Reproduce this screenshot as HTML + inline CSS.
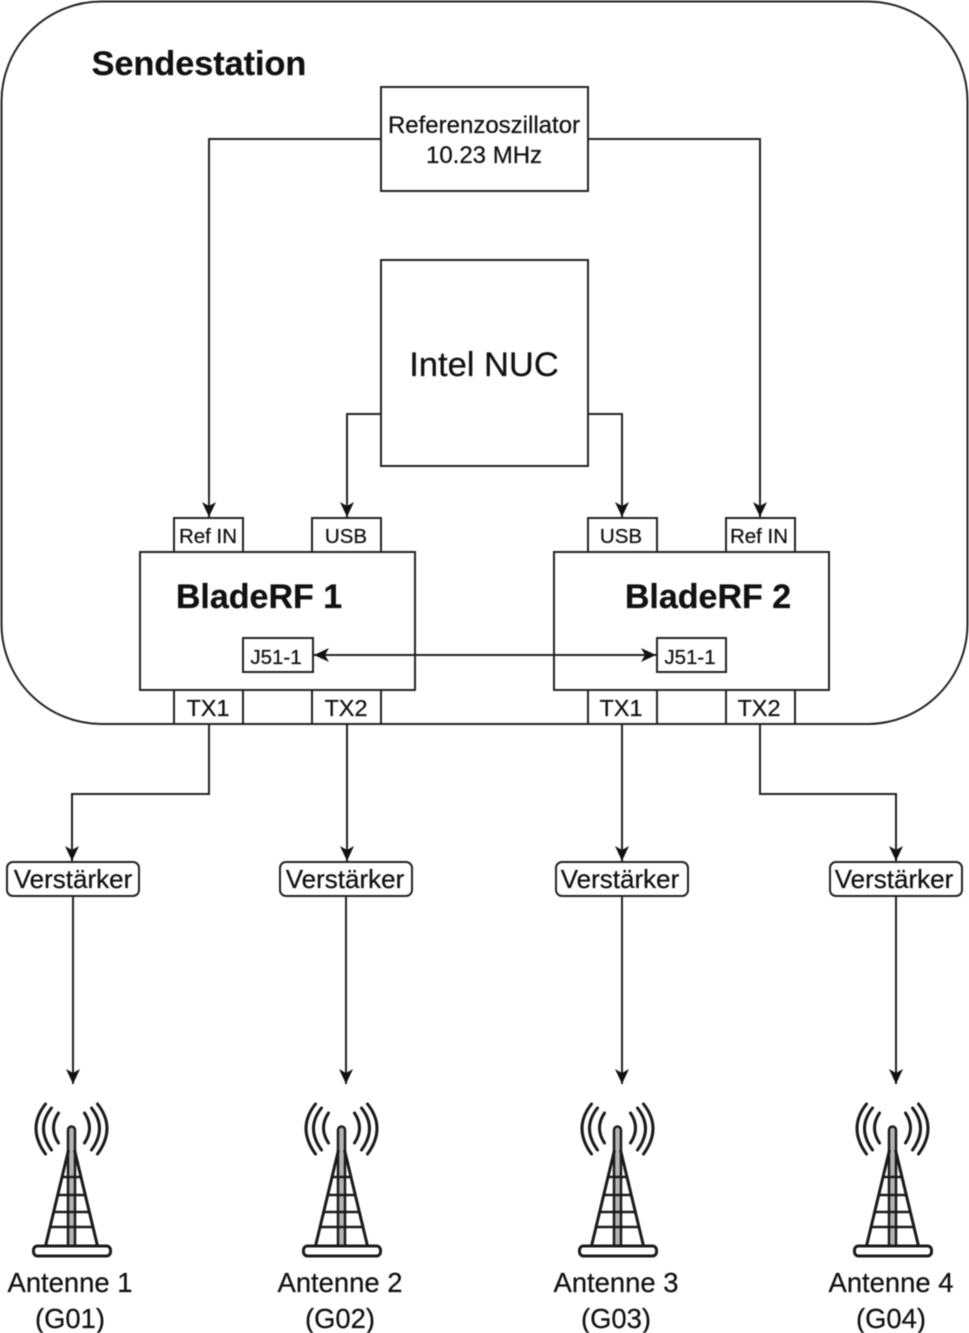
<!DOCTYPE html>
<html>
<head>
<meta charset="utf-8">
<style>
html,body{margin:0;padding:0;background:#fff;width:969px;height:1333px;overflow:hidden}
svg{display:block;filter:blur(0.55px)}
text{font-family:"Liberation Sans",sans-serif;fill:#111;text-anchor:middle;stroke:#111;stroke-width:0.25px}
.b{font-weight:bold}
</style>
</head>
<body>
<svg width="969" height="1333" viewBox="0 0 969 1333" xmlns="http://www.w3.org/2000/svg">
<defs>
<marker id="a" markerUnits="userSpaceOnUse" markerWidth="18" markerHeight="18" refX="16" refY="8" orient="auto-start-reverse" viewBox="0 0 18 16">
<path d="M1 1 L16 8 L1 15 L5 8 Z" fill="#111"/>
</marker>
<g id="tower" fill="none" stroke="#1a1a1a">
<path d="M-3.500 1250V1130a3.500 3.500 0 0 1 7 0V1250" stroke-width="2.500" fill="#b5b5b5"/>
<rect x="-38" y="1246" width="77" height="10" rx="4" stroke-width="3" fill="#fff"/>
<path d="M-3 1150L-26 1246M3 1150L26 1246" stroke-width="3"/>
<path d="M-10 1177H10M-13 1195H13M-17 1212H17M-21 1227H21" stroke-width="2.500"/>
<g stroke-width="3" stroke-linecap="round">
<path d="M-13 1113Q-23 1128 -13 1143"/>
<path d="M-20 1108Q-36 1128 -20 1150"/>
<path d="M-26 1104Q-45 1128 -26 1154"/>
<path d="M13 1113Q23 1128 13 1143"/>
<path d="M20 1108Q36 1128 20 1150"/>
<path d="M26 1104Q45 1128 26 1154"/>
</g>
</g>
</defs>

<rect x="1.500" y="1.500" width="966" height="722.500" rx="100" ry="100" fill="#fff" stroke="#222" stroke-width="2"/>
<text x="199" y="75" font-size="34.200" class="b">Sendestation</text>

<g fill="#fff" stroke="#222" stroke-width="2">
<rect x="381" y="87" width="207" height="104"/>
<rect x="381" y="260" width="207" height="206"/>
<rect x="174" y="518" width="69" height="34"/>
<rect x="312" y="518" width="69" height="34"/>
<rect x="588" y="518" width="69" height="34"/>
<rect x="726" y="518" width="69" height="34"/>
<rect x="174" y="690" width="69" height="34"/>
<rect x="312" y="690" width="69" height="34"/>
<rect x="588" y="690" width="69" height="34"/>
<rect x="726" y="690" width="69" height="34"/>
<rect x="140" y="552" width="275" height="138"/>
<rect x="554" y="552" width="275" height="138"/>
<rect x="243" y="638" width="70" height="34"/>
<rect x="657" y="638" width="69" height="34"/>
<rect x="7" y="862" width="132" height="34" rx="6"/>
<rect x="280" y="862" width="132" height="34" rx="6"/>
<rect x="556" y="862" width="132" height="34" rx="6"/>
<rect x="830" y="862" width="132" height="34" rx="6"/>
</g>

<g fill="none" stroke="#222" stroke-width="2">
<path d="M381 139H209V517" marker-end="url(#a)"/>
<path d="M588 139H760V517" marker-end="url(#a)"/>
<path d="M381 414H347V517" marker-end="url(#a)"/>
<path d="M588 414H622V517" marker-end="url(#a)"/>
<path d="M314 655H656" marker-start="url(#a)" marker-end="url(#a)"/>
<path d="M209 725V794H72V861" marker-end="url(#a)"/>
<path d="M347 725V861" marker-end="url(#a)"/>
<path d="M622 725V861" marker-end="url(#a)"/>
<path d="M760 725V794H896V861" marker-end="url(#a)"/>
<path d="M73 896V1084" marker-end="url(#a)"/>
<path d="M346 896V1084" marker-end="url(#a)"/>
<path d="M622 896V1084" marker-end="url(#a)"/>
<path d="M896 896V1084" marker-end="url(#a)"/>
</g>

<text x="484" y="133" font-size="24">Referenzoszillator</text>
<text x="484" y="163" font-size="24">10.23 MHz</text>
<text x="484" y="376" font-size="34.500">Intel NUC</text>
<text x="208" y="543" font-size="20.500">Ref IN</text>
<text x="346" y="543" font-size="20.500">USB</text>
<text x="621" y="543" font-size="20.500">USB</text>
<text x="759" y="543" font-size="20.500">Ref IN</text>
<text x="259" y="608" font-size="34" class="b">BladeRF 1</text>
<text x="708" y="608" font-size="34" class="b">BladeRF 2</text>
<text x="276" y="664" font-size="20.500">J51-1</text>
<text x="690" y="664" font-size="20.500">J51-1</text>
<text x="208" y="716" font-size="23.500">TX1</text>
<text x="346" y="716" font-size="23.500">TX2</text>
<text x="621" y="716" font-size="23.500">TX1</text>
<text x="759" y="716" font-size="23.500">TX2</text>
<text x="73" y="888" font-size="26">Verstärker</text>
<text x="345" y="888" font-size="26">Verstärker</text>
<text x="620" y="888" font-size="26">Verstärker</text>
<text x="894" y="888" font-size="26">Verstärker</text>

<use href="#tower" x="71.500"/>
<use href="#tower" x="341.500"/>
<use href="#tower" x="617.500"/>
<use href="#tower" x="892.500"/>

<text x="70" y="1292" font-size="27.400">Antenne 1</text>
<text x="70" y="1328" font-size="27.400">(G01)</text>
<text x="340" y="1292" font-size="27.400">Antenne 2</text>
<text x="340" y="1328" font-size="27.400">(G02)</text>
<text x="616" y="1292" font-size="27.400">Antenne 3</text>
<text x="616" y="1328" font-size="27.400">(G03)</text>
<text x="891" y="1292" font-size="27.400">Antenne 4</text>
<text x="891" y="1328" font-size="27.400">(G04)</text>
</svg>
</body>
</html>
